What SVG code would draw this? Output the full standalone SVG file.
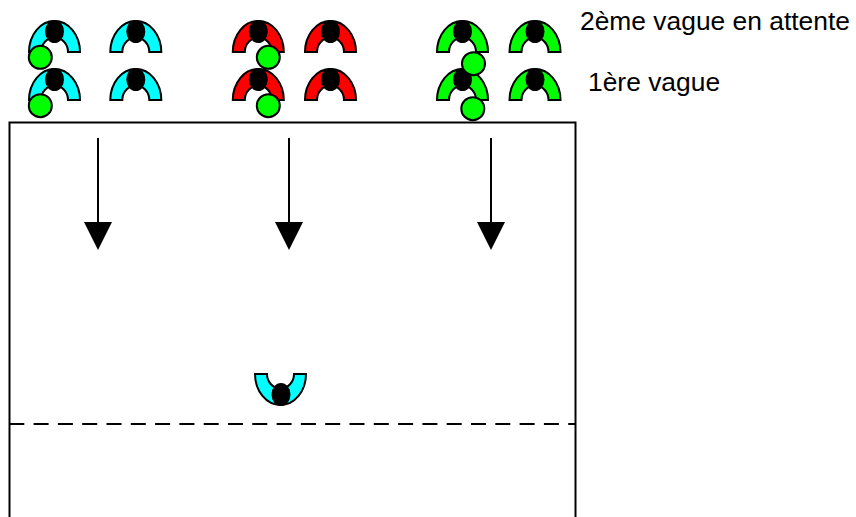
<svg xmlns="http://www.w3.org/2000/svg" xmlns:xlink="http://www.w3.org/1999/xlink" width="856" height="517" viewBox="0 0 856 517">
<style>
.arch{stroke:#000;stroke-width:2;stroke-linejoin:miter}
.blue{fill:#00ffff}.red{fill:#ff0000}.green{fill:#00ff00}
.head{fill:#000}
.ball{fill:#00ff00;stroke:#000;stroke-width:2}
.line{stroke:#000;stroke-width:2;fill:none}
.lbl{font-family:"Liberation Sans",Arial,sans-serif;font-size:26.4px;fill:#000}
</style>
<defs>
<path id="a" class="arch" d="M-25.5 0.5A25.5 31 0 0 1 25.5 0.5H13.5A13.5 14.5 0 0 0 -13.5 0.5Z"/>
<ellipse id="h" class="head" cx="0" cy="-20" rx="9.5" ry="11.5"/>
<marker id="arrow" markerUnits="userSpaceOnUse" markerWidth="28" markerHeight="28" refX="0" refY="14" orient="auto" viewBox="0 0 28 28"><path d="M0 0L28 14L0 28Z" fill="#000"/></marker>
</defs>
<g id="court"><rect class="line" x="9.5" y="122.5" width="566" height="420"/></g>
<g id="connectors">
<line class="line" x1="98" y1="138" x2="98" y2="222" marker-end="url(#arrow)"/>
<line class="line" x1="289" y1="138" x2="289" y2="222" marker-end="url(#arrow)"/>
<line class="line" x1="491" y1="138" x2="491" y2="222" marker-end="url(#arrow)"/>
<line class="line" x1="9.3" y1="424" x2="575" y2="424" stroke-dasharray="15 9.3"/>
</g>
<g id="player-blue-1"><use href="#a" class="blue" x="54.5" y="51.5"/><use href="#h" x="54.5" y="51.5"/></g>
<g id="player-blue-2"><use href="#a" class="blue" x="135.8" y="51.5"/><use href="#h" x="135.8" y="51.5"/></g>
<g id="player-blue-3"><use href="#a" class="blue" x="54.5" y="99.5"/><use href="#h" x="54.5" y="99.5"/></g>
<g id="player-blue-4"><use href="#a" class="blue" x="135.8" y="99.5"/><use href="#h" x="135.8" y="99.5"/></g>
<g id="player-red-1"><use href="#a" class="red" x="258.3" y="51.5"/><use href="#h" x="258.3" y="51.5"/></g>
<g id="player-red-2"><use href="#a" class="red" x="330.5" y="51.5"/><use href="#h" x="330.5" y="51.5"/></g>
<g id="player-red-3"><use href="#a" class="red" x="258.3" y="99.5"/><use href="#h" x="258.3" y="99.5"/></g>
<g id="player-red-4"><use href="#a" class="red" x="330.5" y="99.5"/><use href="#h" x="330.5" y="99.5"/></g>
<g id="player-green-1"><use href="#a" class="green" x="462.5" y="51.5"/><use href="#h" x="462.5" y="51.5"/></g>
<g id="player-green-2"><use href="#a" class="green" x="535" y="51.5"/><use href="#h" x="535" y="51.5"/></g>
<g id="player-green-3"><use href="#a" class="green" x="462.5" y="99.5"/><use href="#h" x="462.5" y="99.5"/></g>
<g id="player-green-4"><use href="#a" class="green" x="535" y="99.5"/><use href="#h" x="535" y="99.5"/></g>
<g id="balls">
<circle class="ball" cx="40.3" cy="57.3" r="11.5"/>
<circle class="ball" cx="40.3" cy="105.7" r="11.5"/>
<circle class="ball" cx="268.3" cy="57.3" r="11.5"/>
<circle class="ball" cx="268.3" cy="105.7" r="11.5"/>
<circle class="ball" cx="473.5" cy="63.7" r="11.5"/>
<circle class="ball" cx="472.8" cy="108.7" r="11.5"/>
</g>
<g id="defender"><use href="#a" class="blue" transform="translate(280.5 374.5) scale(1 -1)"/><use href="#h" transform="translate(281 374.5) scale(1 -1)"/></g>
<g id="label-wave-2"><text class="lbl" x="580" y="30">2ème vague en attente</text></g>
<g id="label-wave-1"><text class="lbl" x="588" y="91">1ère vague</text></g>
</svg>
